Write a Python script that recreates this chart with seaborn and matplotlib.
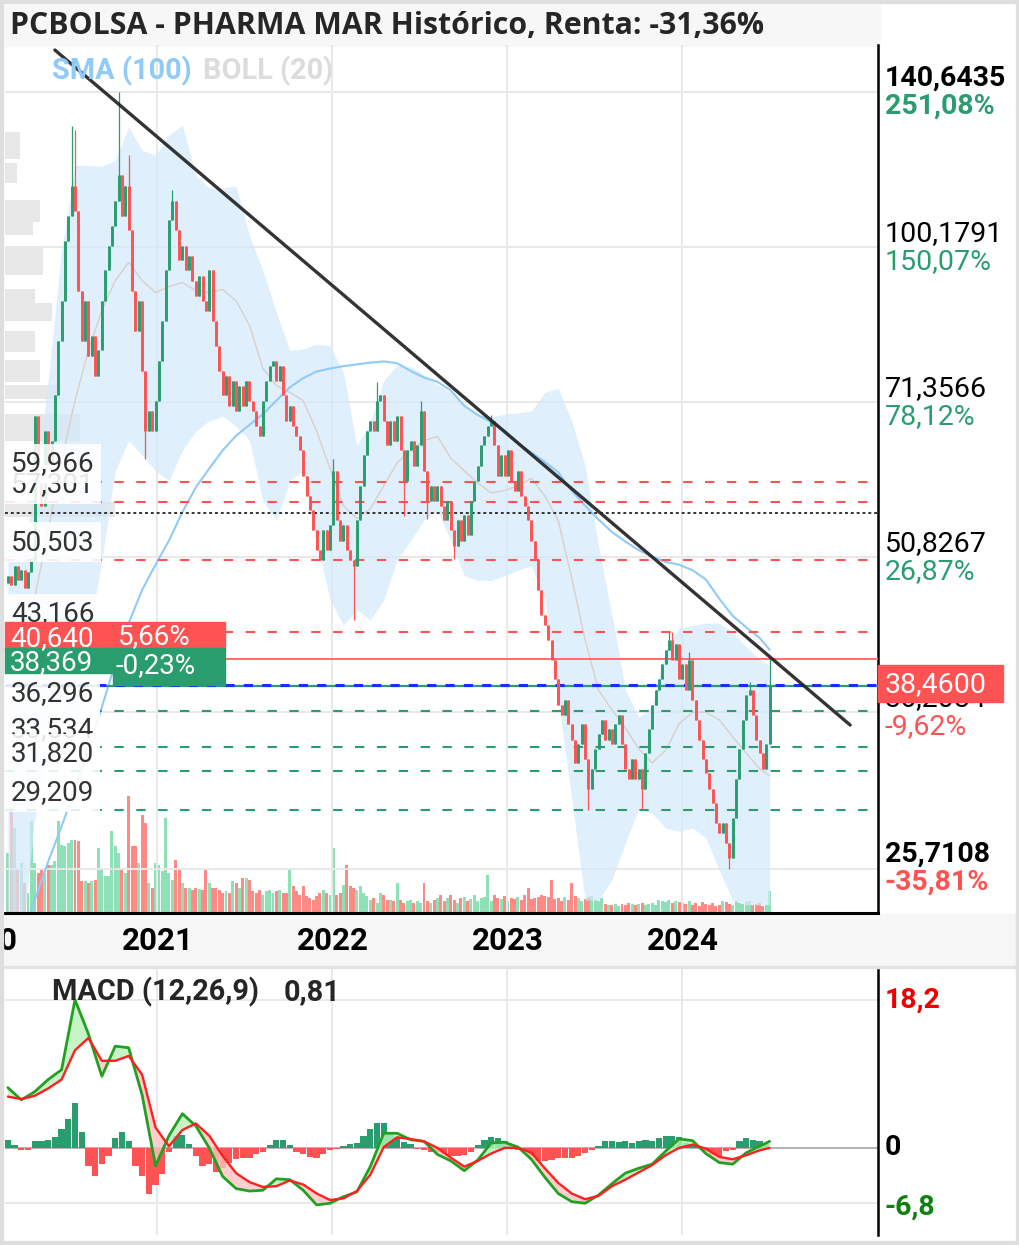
import matplotlib
matplotlib.use("Agg")
import matplotlib.pyplot as plt
import matplotlib.dates as mdates
from matplotlib.patches import Rectangle
from matplotlib.transforms import IdentityTransform
import seaborn as sns
import pandas as pd

sns.set_style("white")
plt.rcParams["font.family"] = ["Roboto", "DejaVu Sans"]

# weekly closes, from 2020-02-24
close = [
    48.8, 47.8, 49.9, 48.3, 49.4, 47.5, 49.2, 50.5, 69.2, 61.4,
    56.9, 67.0, 61.4, 65.6, 72.4, 81.6, 89.1, 101.6, 107.3, 114.6,
    108.5, 91.1, 81.6, 89.1, 79.0, 82.5, 75.6, 79.9, 89.1, 95.2,
    100.5, 105.0, 110.9, 117.2, 107.3, 114.6, 103.9, 91.1, 83.4, 89.1,
    76.4, 67.0, 70.0, 67.0, 71.6, 78.1, 85.3, 95.2, 106.2, 110.9,
    103.9, 97.3, 100.5, 95.2, 98.3, 93.1, 90.1, 94.1, 89.1, 87.2,
    95.2, 85.3, 80.7, 76.4, 72.4, 75.6, 70.8, 74.8, 70.0, 74.0,
    70.8, 74.8, 71.6, 70.0, 67.7, 66.3, 71.6, 74.8, 77.3, 78.1,
    74.8, 77.3, 72.4, 68.5, 70.8, 67.7, 66.3, 64.2, 60.7, 58.1,
    56.3, 53.9, 51.6, 50.5, 53.9, 51.6, 54.5, 61.4, 55.1, 52.7,
    54.5, 51.6, 50.5, 49.9, 55.1, 59.4, 63.5, 67.0, 68.5, 67.0,
    71.6, 72.4, 68.5, 64.9, 68.5, 65.6, 69.2, 64.2, 60.1, 64.2,
    65.6, 62.1, 64.9, 70.0, 61.4, 57.5, 59.4, 57.5, 59.4, 56.9,
    55.1, 57.5, 53.9, 52.1, 55.1, 52.7, 55.7, 53.3, 57.5, 60.1,
    62.1, 64.9, 66.3, 67.7, 68.5, 64.9, 60.7, 63.5, 60.7, 64.2,
    60.1, 58.8, 61.4, 58.1, 56.9, 55.1, 52.7, 50.5, 47.3, 44.8,
    43.8, 42.4, 40.6, 38.9, 36.8, 36.0, 37.2, 35.3, 34.1, 32.4,
    33.8, 35.3, 32.7, 30.6, 32.0, 33.4, 34.5, 35.6, 34.1, 34.9,
    33.8, 35.3, 36.0, 33.8, 32.0, 31.3, 32.7, 31.3, 32.0, 30.6,
    33.1, 34.9, 36.8, 38.0, 38.9, 40.2, 41.5, 42.4, 40.6, 42.0,
    38.9, 40.2, 38.0, 40.6, 37.2, 35.6, 34.1, 32.7, 31.7, 30.6,
    29.7, 28.4, 27.8, 28.4, 27.2, 26.3, 28.7, 31.3, 33.4, 35.6,
    37.6, 38.0, 36.0, 34.1, 33.1, 32.0, 33.8, 38.46,
]
first_open = 48.0
wick_hi = {19: 130.5, 20: 129.4, 33: 140.64, 36: 122.5, 49: 113.5, 97: 63.0,
           110: 74.5, 123: 71.6, 144: 69.4, 197: 43.17, 198: 43.17, 203: 41.3,
           221: 38.7, 227: 40.64}
wick_lo = {41: 63.0, 103: 44.3, 118: 55.6, 125: 55.2, 133: 50.6, 173: 29.21,
           189: 29.3, 215: 25.71}

volume = [
    60, 105, 85, 45, 50, 30, 20, 92, 50, 40,
    45, 40, 48, 48, 52, 92, 68, 67, 70, 73,
    73, 72, 32, 32, 30, 32, 33, 65, 45, 37,
    37, 82, 67, 60, 45, 40, 117, 67, 67, 50,
    98, 90, 30, 25, 50, 48, 42, 95, 40, 33,
    53, 45, 30, 25, 25, 23, 25, 24, 23, 43,
    30, 25, 25, 23, 20, 22, 20, 32, 30, 25,
    35, 35, 33, 22, 20, 23, 18, 22, 23, 20,
    22, 23, 20, 20, 43, 27, 22, 18, 27, 17,
    15, 13, 17, 20, 23, 20, 18, 65, 18, 20,
    28, 48, 27, 25, 23, 27, 20, 17, 13, 15,
    10, 20, 18, 13, 13, 12, 30, 13, 10, 12,
    13, 10, 12, 10, 30, 12, 10, 13, 15, 18,
    12, 15, 18, 13, 10, 15, 16, 12, 14, 18,
    12, 15, 16, 38, 12, 18, 15, 14, 17, 12,
    15, 14, 16, 13, 18, 25, 14, 15, 16, 18,
    17, 16, 33, 14, 15, 12, 16, 13, 30, 17,
    15, 12, 14, 16, 17, 13, 12, 15, 9, 8,
    8, 9, 7, 9, 8, 10, 9, 8, 9, 10,
    8, 9, 10, 8, 13, 12, 11, 13, 10, 12,
    11, 10, 9, 12, 8, 10, 7, 11, 9, 8,
    10, 7, 8, 12, 11, 9, 8, 12, 10, 9,
    11, 12, 8, 9, 10, 7, 8, 22,
]

# indicators, read every 4 weeks (+ last week)
boll_up = [52.7, 52.1, 57.5, 74.8, 99.4, 119.8, 119.8, 119.5, 121.1, 130.3,
           123.8, 122.5, 128.0, 130.8, 117.2, 114.0, 114.0, 114.5, 102.7, 95.2,
           86.8, 79.9, 80.2, 81.0, 80.7, 76.1, 64.9, 68.2, 74.8, 77.4,
           77.1, 75.8, 74.1, 72.9, 70.8, 69.4, 69.1, 69.5, 69.7, 70.0,
           72.9, 73.5, 68.5, 62.1, 52.1, 44.8, 38.0, 35.8, 36.7, 41.5,
           43.5, 43.8, 44.0, 44.0, 43.1, 41.8, 40.6, 40.1]
boll_mid = [42.4, 44.3, 46.5, 53.9, 62.8, 71.6, 79.9, 87.2, 93.1, 96.9,
            93.1, 90.7, 91.9, 92.7, 91.1, 90.7, 91.3, 89.1, 84.4, 76.8,
            74.0, 72.9, 71.6, 67.0, 61.7, 56.9, 55.3, 56.5, 59.4, 62.5,
            64.2, 65.6, 66.2, 63.1, 61.4, 59.8, 58.5, 58.8, 59.4, 60.4,
            58.1, 55.1, 48.6, 42.4, 38.0, 36.4, 35.0, 33.4, 32.4, 33.3,
            35.3, 36.2, 36.2, 35.6, 34.3, 33.1, 32.0, 31.5]
boll_lo = [21.5, 21.5, 28.7, 32.7, 37.2, 32.7, 42.4, 50.5, 61.4, 65.6,
           63.5, 61.4, 60.1, 64.2, 67.0, 68.5, 69.2, 67.7, 65.6, 57.5,
           55.1, 60.1, 61.4, 52.7, 46.3, 43.8, 45.3, 44.3, 46.3, 50.5,
           52.7, 55.1, 56.3, 52.7, 48.8, 48.3, 48.3, 48.8, 49.4, 49.9,
           46.3, 37.2, 30.0, 24.0, 24.0, 25.1, 27.2, 29.3, 29.0, 28.1,
           27.9, 28.1, 27.5, 25.6, 24.0, 23.75, 23.75, 23.75]
sma100 = [20.4, 22.1, 24.0, 26.1, 28.2, 30.6, 33.4, 36.6, 40.3, 44.0,
          47.3, 50.0, 52.7, 56.1, 59.2, 61.7, 64.2, 66.3, 67.9, 69.5,
          71.6, 73.7, 75.2, 76.3, 76.8, 77.2, 77.5, 77.8, 78.0, 77.7,
          76.4, 75.3, 74.6, 73.2, 70.8, 69.4, 68.3, 67.0, 65.2, 63.9,
          62.6, 61.2, 58.8, 56.9, 55.2, 53.7, 52.6, 51.6, 50.9, 50.3,
          50.0, 49.4, 48.4, 46.4, 44.7, 43.6, 42.6, 41.5]
macd = [7.4, 5.9, 6.9, 8.4, 9.6, 18.2, 14.0, 8.8, 12.5, 12.3,
        6.5, -2.2, 1.5, 4.2, 2.7, 0.0, -3.5, -5.0, -5.3, -5.2,
        -3.8, -3.9, -5.2, -7.0, -6.8, -6.0, -5.4, -2.3, 1.8, 1.8,
        1.0, 0.8, -0.8, -1.6, -2.8, -1.5, 0.6, 0.7, 0.1, -1.4,
        -3.6, -5.6, -6.6, -6.8, -5.8, -4.4, -3.1, -2.5, -2.0, -0.4,
        1.1, 0.9, -0.7, -1.8, -2.0, -0.6, 0.2, 0.81]
signal = [6.3, 6.0, 6.4, 7.3, 8.4, 12.0, 13.5, 10.7, 10.7, 11.3,
          9.0, 2.5, 0.2, 2.2, 3.0, 1.5, -1.0, -3.1, -4.2, -4.8,
          -4.7, -4.0, -4.5, -5.6, -6.4, -6.2, -5.3, -3.3, 0.1, 1.3,
          1.1, 0.8, 0.0, -1.2, -2.3, -1.6, -0.7, 0.0, 0.0, -0.6,
          -2.5, -4.3, -5.6, -6.3, -5.9, -4.7, -3.9, -3.0, -2.1, -0.9,
          0.0, 0.4, -0.1, -1.1, -1.4, -0.9, -0.3, 0.0]
# MACD histogram, every 2 weeks
macd_hist = [1.0, 0.3, -0.3, -0.3, 0.8, 0.9, 1.0, 1.3, 2.3, 3.5,
             5.5, 2.0, -2.2, -3.4, -2.0, -1.0, 1.2, 1.9, 0.8, -2.2,
             -3.5, -5.7, -4.5, -3.2, -0.5, 1.5, 1.6, 0.5, -1.0, -2.2,
             -2.0, -3.0, -2.5, -1.8, -1.4, -1.3, -1.2, -0.8, -0.5, 0.4,
             1.0, 1.0, 0.3, -0.5, -0.8, -1.1, -1.3, -0.8, -0.3, -0.1,
             0.2, 0.5, 0.6, 1.5, 2.3, 3.0, 3.1, 1.8, 1.4, 0.7,
             0.5, -0.1, -0.2, -0.5, -0.5, -0.8, -1.0, -1.0, -0.9, -0.5,
             0.3, 1.0, 1.4, 1.2, 0.9, 0.4, -0.3, -0.4, -1.0, -1.6,
             -1.6, -1.5, -1.3, -1.3, -1.2, -1.0, -0.6, -0.3, 0.2, 0.8,
             0.9, 0.7, 0.8, 0.6, 0.8, 1.0, 0.9, 1.2, 1.5, 1.5,
             1.3, 0.6, 0.4, 0.2, -0.5, -0.9, -1.0, -0.4, -0.2, 0.8,
             1.2, 1.0, 0.8, 0.5]

# volume profile
vp_lo = [121.4, 115.2, 105.8, 102.9, 94.2, 88.7, 85.3, 79.7, 74.6, 71.8, 65.6, 55.5]
vp_hi = [128.9, 120.3, 111.1, 105.8, 100.5, 91.4, 88.7, 83.4, 78.3, 74.1, 69.6, 57.4]
vp_vol = [15, 12, 35, 28, 38, 30, 47, 30, 35, 55, 75, 110]

red_levels = [57.301, 59.966, 50.503, 43.166]
green_levels = [36.296, 33.534, 31.820, 29.209]
resist_level = 40.640
support_level = 38.369
start_price = 56.03
last_price = 38.46
axis_prices = [140.6435, 100.1791, 71.3566, 50.8267, 36.2084, 25.7108]
axis_pcts = ["251,08%", "150,07%", "78,12%", "26,87%", "-9,62%", "-35,81%"]
years = [2020, 2021, 2022, 2023, 2024]
trend_dates = ["2020-06-01", "2024-12-16"]
trend_prices = [154.2, 35.2]

W, H = 1020, 1245
GREEN = "#2a9d6f"
RED = "#ff5252"
GRID = "#e9e9e9"

dates = pd.date_range("2020-02-24", periods=len(close), freq="7D")
ind_dates = dates[::4].append(dates[-1:])
hist_dates = dates[::2]
opens = [first_open] + close[:-1]
highs = [wick_hi.get(i, max(o, c)) for i, (o, c) in enumerate(zip(opens, close))]
lows = [wick_lo.get(i, min(o, c)) for i, (o, c) in enumerate(zip(opens, close))]
cols = [GREEN if c >= o else RED for o, c in zip(opens, close)]
vcols = ["#8ee0b6" if c == GREEN else "#ff8a85" for c in cols]
xlim = (pd.Timestamp("2020-02-18"), pd.Timestamp("2025-02-12"))


def box(x0, y0, x1, y1):
    return [x0 / W, 1 - y1 / H, (x1 - x0) / W, (y1 - y0) / H]


fig = plt.figure(figsize=(W / 100, H / 100), dpi=100)
fig.patch.set_facecolor("white")
# bands + frame
fig.add_artist(Rectangle((5 / W, 1 - 46 / H), 875 / W, 41 / H, transform=fig.transFigure,
                         color="#f7f7f7", zorder=0))
fig.add_artist(Rectangle((5 / W, 1 - 966 / H), 1010 / W, 52 / H, transform=fig.transFigure,
                         color="#f6f6f6", zorder=0))
fig.add_artist(Rectangle((0, 0), 1, 1, transform=fig.transFigure, fill=False,
                         ec="#dedede", lw=6, zorder=10))
fig.add_artist(plt.Line2D([5 / W, 1015 / W], [1 - 967 / H] * 2, transform=fig.transFigure,
                          color="#e2e2e2", lw=2.5))

ax = fig.add_axes(box(5, 45, 878, 913))
ax_v = ax.twinx()
ax_p = ax.twiny()
ax_v.set_zorder(0)
ax_p.set_zorder(0.5)
ax.set_zorder(1)
for a in (ax, ax_v, ax_p):
    a.patch.set_visible(False)
for a in (ax_v, ax_p):
    for s in a.spines.values():
        s.set_visible(False)

ax.set_yscale("log")
ax.set_ylim(23.33, 155.9)
ax.set_xlim(*xlim)

# volume
ax_v.bar(dates, volume, width=6.2, color=vcols, lw=0)
ax_v.set_ylim(0, 868)
ax_v.set_yticks([])

# volume profile
ax_p.barh(vp_lo, vp_vol, height=[h - l for l, h in zip(vp_lo, vp_hi)], align="edge",
          color="#d4d4d4", alpha=0.55, lw=0)
ax_p.set_xlim(0, 873)
ax_p.set_xticks([])

# grid
for v in axis_prices:
    ax.axhline(v, color=GRID, lw=1.4, zorder=0)
for y in years:
    ax.axvline(pd.Timestamp(f"{y}-01-01"), color=GRID, lw=1.4, zorder=0)

# bollinger + sma
ax.fill_between(ind_dates, boll_lo, boll_up, color="#d3e9fb", alpha=0.7, lw=0, zorder=1)
ax.plot(ind_dates, boll_mid, color="#d8cfcb", lw=1.0, zorder=2)
ax.plot(ind_dates, sma100, color="#90caf9", lw=1.5, zorder=2)

# levels
for v in red_levels:
    ax.axhline(v, color=RED, lw=1.5, ls=(0, (4.5, 6)), zorder=3)
for v in green_levels:
    ax.axhline(v, color=GREEN, lw=1.5, ls=(0, (4.5, 6)), zorder=3)
ax.axhline(start_price, color="#333333", lw=1.4, ls=(0, (1.5, 1.5)), zorder=3)
ax.axhline(resist_level, color="#ff6b6b", lw=1.4, zorder=3)
ax.axhline(support_level, color=GREEN, lw=1.6, zorder=3)
ax.axhline(last_price, color="#1a2cff", lw=2.2, ls=(0, (3, 3)), zorder=3)

# candles
ax.vlines(dates, lows, highs, colors=cols, lw=0.9, zorder=4)
ax.vlines(dates, [min(o, c) for o, c in zip(opens, close)],
          [max(o, c) for o, c in zip(opens, close)], colors=cols, lw=2.1, zorder=4)

# trend line
ax.plot(pd.to_datetime(trend_dates), trend_prices, color="#1e1e1e", lw=2.4, alpha=0.9, zorder=5)

ax.set_xticks([])
ax.set_yticks([])
ax.set_yticks([], minor=True)
for s in ("left", "top"):
    ax.spines[s].set_visible(False)
ax.spines["right"].set_color("black")
ax.spines["right"].set_linewidth(1.8)
ax.spines["bottom"].set_color("black")
ax.spines["bottom"].set_linewidth(2.2)

ytr = ax.get_yaxis_transform()


def row(v):
    return H - ytr.transform((0.0, float(v)))[1]


# left level labels
for v in red_levels + green_levels:
    ax.annotate(f"{v:.3f}".replace(".", ","), xy=(0.0, v), xycoords=ytr,
                xytext=(6, 18), textcoords="offset pixels", va="center", ha="left",
                fontsize=20, color="#333333", zorder=6,
                bbox=dict(boxstyle="square,pad=0.22", fc="white", ec="none", alpha=0.88))

# resistance / support tags
r = row(resist_level)
s_ = row(support_level)
for (x0, x1, y0, y1, c) in [(5, 225, r - 37, r - 9, RED),
                            (5, 113, s_ - 38, s_ - 13, GREEN),
                            (113, 225, s_ - 38, s_ - 1, GREEN)]:
    fig.add_artist(Rectangle((x0, H - y1), x1 - x0, y1 - y0, transform=IdentityTransform(),
                             color=c, zorder=7))
fig.text(10 / W, 1 - (r - 21) / H, "40,640", color="white", fontsize=20, va="center", zorder=8)
fig.text(118 / W, 1 - (r - 23) / H, "5,66%", color="white", fontsize=20, va="center", zorder=8)
fig.text(10 / W, 1 - (s_ - 23) / H, "38,369", color="white", fontsize=20, va="center", zorder=8)
fig.text(116 / W, 1 - (s_ - 20) / H, "-0,23%", color="white", fontsize=20, va="center", zorder=8)

# right axis labels
for i, (v, p) in enumerate(zip(axis_prices, axis_pcts)):
    bold = i in (0, len(axis_prices) - 1)
    pc = GREEN if v > 40.06 else RED
    ax.annotate(f"{v:.4f}".replace(".", ","), xy=(1.0, v), xycoords=ytr, xytext=(7, 14),
                textcoords="offset pixels", va="center", ha="left", fontsize=20.5,
                color="black", fontweight="bold" if bold else "normal")
    ax.annotate(p, xy=(1.0, v), xycoords=ytr, xytext=(7, -14), textcoords="offset pixels",
                va="center", ha="left", fontsize=20.5, color=pc,
                fontweight="bold" if bold else "normal")
lp = row(last_price)
fig.add_artist(Rectangle((878, H - (lp + 17)), 125, 37, transform=IdentityTransform(),
                         color=RED, zorder=7))
fig.text(885 / W, 1 - lp / H, "38,4600", color="white", fontsize=20.5, va="center", zorder=8)

# year labels (volume axis has a linear y, so its x-axis transform is safe)
xtr = ax_v.get_xaxis_transform()
for y in years:
    ax_v.annotate(str(y), xy=(mdates.date2num(pd.Timestamp(f"{y}-01-01")), 0.0), xycoords=xtr,
                  xytext=(0, -28), textcoords="offset pixels", ha="center", va="center",
                  fontsize=22.5, fontweight="bold", color="black", annotation_clip=False)

# legend texts
fig.text(52 / W, 1 - 71 / H, "SMA (100)", color="#90caf9", fontsize=20.8, fontweight="bold",
         va="center")
fig.text(203 / W, 1 - 71 / H, "BOLL (20)", color="#dcdcdc", fontsize=20.8, fontweight="bold",
         va="center")
fig.text(10 / W, 1 - 26 / H, "PCBOLSA - PHARMA MAR Histórico, Renta: -31,36%",
         fontsize=21.8, fontweight="bold", va="center", family=["Open Sans", "DejaVu Sans"])

# MACD panel
ax_m = fig.add_axes(box(5, 968, 878, 1235))
ax_m.patch.set_visible(False)
ax_m.set_xlim(*xlim)
ax_m.set_ylim(-10.7, 22.1)
for y in years:
    ax_m.axvline(pd.Timestamp(f"{y}-01-01"), color=GRID, lw=1.4, zorder=0)
for v in (18.2, -6.8):
    ax_m.axhline(v, color=GRID, lw=1.4, zorder=0)
ax_m.axhline(0, color="#b5b5b5", lw=1.5, zorder=1)
ax_m.bar(hist_dates, macd_hist, width=13, color=[GREEN if v >= 0 else RED for v in macd_hist],
         lw=0, zorder=2)
up = [m >= s for m, s in zip(macd, signal)]
ax_m.fill_between(ind_dates, macd, signal, where=up, interpolate=True, color="#b9f2b9",
                  alpha=0.8, lw=0, zorder=3)
ax_m.fill_between(ind_dates, macd, signal, where=[not u for u in up], interpolate=True,
                  color="#ffc4c4", alpha=0.8, lw=0, zorder=3)
ax_m.plot(ind_dates, macd, color="#22a022", lw=2.0, zorder=4)
ax_m.plot(ind_dates, signal, color="#ff1f1f", lw=1.7, zorder=5)
ax_m.set_xticks([])
ax_m.set_yticks([])
for s in ("left", "top", "bottom"):
    ax_m.spines[s].set_visible(False)
ax_m.spines["right"].set_color("black")
ax_m.spines["right"].set_linewidth(1.8)
mtr = ax_m.get_yaxis_transform()
for v, t, c in [(18.2, "18,2", "#ee0000"), (0.0, "0", "black"), (-6.8, "-6,8", "#108010")]:
    ax_m.annotate(t, xy=(1.0, v), xycoords=mtr, xytext=(7, 0 if v >= 0 else -4),
                  textcoords="offset pixels", va="center", ha="left", fontsize=20.5,
                  fontweight="bold", color=c)
fig.text(52 / W, 1 - 992 / H, "MACD (12,26,9)", fontsize=20.8, fontweight="bold", va="center")
fig.text(284 / W, 1 - 992 / H, "0,81", fontsize=20.8, fontweight="bold", va="center")

fig.savefig("out.png", dpi=100)
